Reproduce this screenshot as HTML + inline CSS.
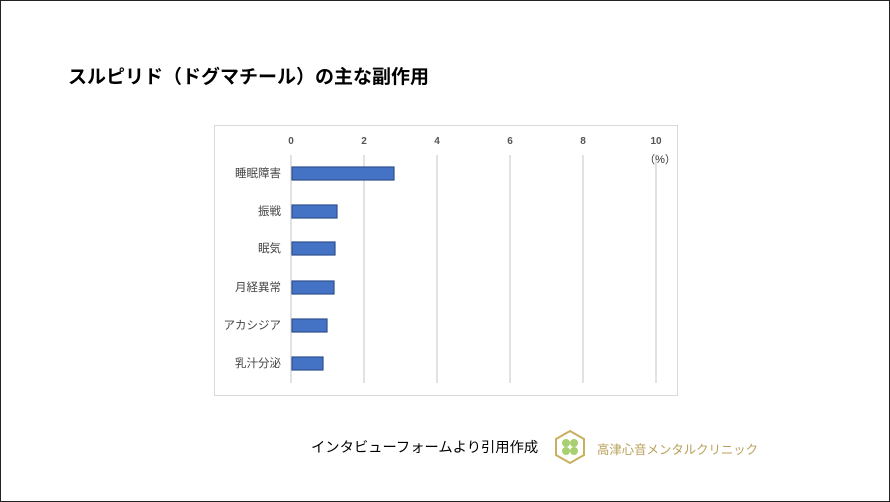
<!DOCTYPE html>
<html><head><meta charset="utf-8"><style>
body{margin:0;width:890px;height:502px;overflow:hidden;background:#fff;font-family:"Liberation Sans","Noto Sans CJK JP",sans-serif}
.frame{position:absolute;left:0;top:0;width:888px;height:500px;border:1px solid #222}
</style></head><body>
<div class="frame"></div>
<div style="position:absolute;left:68px;top:62px;font-size:19px;font-weight:bold;color:#000">スルピリド（ドグマチール）の主な副作用</div>
<svg style="position:absolute;left:0;top:0" width="890" height="502">
<rect x="214.5" y="125.5" width="463" height="270" fill="#fff" stroke="#d9d9d9"/>
<g stroke="#d9d9d9" stroke-width="1.5">
<line x1="291" y1="155" x2="291" y2="383"/><line x1="364" y1="155" x2="364" y2="383"/><line x1="437" y1="155" x2="437" y2="383"/><line x1="510" y1="155" x2="510" y2="383"/><line x1="583" y1="155" x2="583" y2="383"/><line x1="656" y1="155" x2="656" y2="383"/>
</g>
<g font-size="10" fill="#555" text-anchor="middle" font-family="Liberation Sans,sans-serif" font-weight="bold">
<text x="291" y="144">0</text><text x="364" y="144">2</text><text x="437" y="144">4</text><text x="510" y="144">6</text><text x="583" y="144">8</text><text x="656" y="144">10</text>
</g>
<text x="660" y="163" font-size="11" fill="#333" text-anchor="middle" font-family="Liberation Sans,Noto Sans CJK JP,sans-serif">（%）</text>
<g fill="#4472c4" stroke="#2f4f8f" stroke-width="1.2">
<rect x="292" y="167" width="102" height="13"/>
<rect x="292" y="205" width="45" height="13"/>
<rect x="292" y="242" width="43" height="13"/>
<rect x="292" y="281" width="42" height="13"/>
<rect x="292" y="319" width="35" height="13"/>
<rect x="292" y="357" width="31" height="13"/>
</g>
<g font-size="11.5" fill="#444" text-anchor="end" font-family="Liberation Sans,Noto Sans CJK JP,sans-serif">
<text x="281" y="177">睡眠障害</text><text x="281" y="215">振戦</text><text x="281" y="252">眠気</text><text x="281" y="291">月経異常</text><text x="281" y="329">アカシジア</text><text x="281" y="367">乳汁分泌</text>
</g>
<polygon points="570,431 584,439 584,455 570,463 556,455 556,439" fill="none" stroke="#c8b060" stroke-width="2"/>
<circle cx="566" cy="443" r="4" fill="#a8d070"/><circle cx="574" cy="443" r="4" fill="#a8d070"/><circle cx="566" cy="451" r="4" fill="#a8d070"/><circle cx="574" cy="451" r="4" fill="#a8d070"/>
</svg>
<div style="position:absolute;left:311px;top:436px;font-size:14.3px;color:#000">インタビューフォームより引用作成</div>
<div style="position:absolute;left:597px;top:440px;font-size:12.4px;color:#b8a05a">高津心音メンタルクリニック</div>
</body></html>
